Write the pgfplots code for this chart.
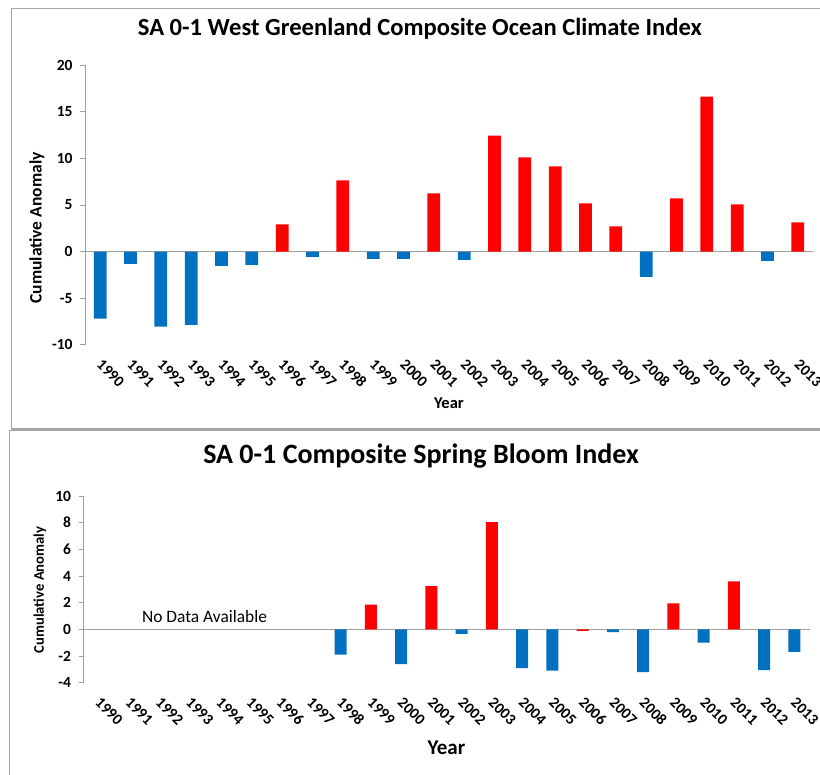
\documentclass[border=0pt]{standalone}
\usepackage{fontspec}
\setmainfont{Carlito}
\usepackage{pgfplots}
\pgfplotsset{compat=1.18}
\definecolor{xblue}{HTML}{0070C0}
\definecolor{xred}{HTML}{FF0000}
\definecolor{framegray}{HTML}{A6A6A6}
\definecolor{axgray}{HTML}{A0A0A0}
\pgfplotsset{
  mystyle/.style={
    scale only axis,
    xmin=-0.5, xmax=23.5,
    xtick={0,...,23},
    xticklabels={1990,1991,1992,1993,1994,1995,1996,1997,1998,1999,2000,2001,2002,2003,2004,2005,2006,2007,2008,2009,2010,2011,2012,2013},
    axis lines*=left,
    x axis line style={draw=none},
    y axis line style={axgray, line width=0.9pt},
    xtick style={draw=none},
    ytick style={axgray, line width=0.9pt},
    tick align=outside,
    major tick length=5pt,
    ybar, bar shift=0pt,
    /pgf/number format/assume math mode=true,
    ticklabel style={font=\fontsize{15.5}{18}\selectfont\bfseries},
    xticklabel style={rotate=-45, anchor=north west, inner sep=1pt, xshift=7pt, yshift=-2.8pt},
    yticklabel style={xshift=-4pt},
    extra y ticks={0}, extra y tick labels={},
    extra y tick style={grid=major, major grid style={axgray, line width=1.1pt}},
    clip=false,
  }
}
\begin{document}
\begin{tikzpicture}
\useasboundingbox (0,0) rectangle (820pt,-775pt);
\clip (0,0) rectangle (820pt,-775pt);
\draw[framegray, line width=1.3pt] (11.5pt,-8.7pt) rectangle (840pt,-429pt);
\draw[framegray, line width=1.3pt] (9.5pt,-430.5pt) rectangle (840pt,-800pt);
\begin{axis}[mystyle,
  at={(85pt,-344.7pt)}, anchor=south west,
  width=728pt, height=279.4pt,
  ymin=-10, ymax=20, ytick={-10,-5,...,20},
  bar width=12.7pt,
  title={SA 0-1 West Greenland Composite Ocean Climate Index},
  title style={at={(axis description cs:0.46,1.108)}, anchor=center, font=\fontsize{24.6}{29}\selectfont\bfseries},
  xlabel={Year},
  xlabel style={at={(axis description cs:0.5,-0.209)}, anchor=center, font=\fontsize{16.5}{19}\selectfont\bfseries},
  ylabel={Cumulative Anomaly},
  ylabel style={at={(axis description cs:-0.066,0.418)}, anchor=center, font=\fontsize{17.5}{20}\selectfont\bfseries},
]
\addplot[fill=xred, draw=none] coordinates {(6,2.93) (8,7.64) (11,6.25) (13,12.46) (14,10.11) (15,9.14) (16,5.18) (17,2.71) (19,5.71) (20,16.64) (21,5.07) (23,3.14)};
\addplot[fill=xblue, draw=none] coordinates {(0,-7.21) (1,-1.32) (2,-8.07) (3,-7.86) (4,-1.54) (5,-1.43) (7,-0.57) (9,-0.79) (10,-0.79) (12,-0.89) (18,-2.71) (22,-1.0)};
\end{axis}
\begin{axis}[mystyle,
  at={(83.5pt,-682.7pt)}, anchor=south west,
  width=726pt, height=186.7pt,
  ymin=-4, ymax=10, ytick={-4,-2,...,10},
  bar width=12pt,
  title={SA 0-1 Composite Spring Bloom Index},
  title style={at={(axis description cs:0.465,1.182)}, anchor=center, font=\fontsize{28}{33}\selectfont\bfseries},
  xlabel={Year},
  xlabel style={at={(axis description cs:0.5,-0.35)}, anchor=center, font=\fontsize{21}{25}\selectfont\bfseries},
  ylabel={Cumulative Anomaly},
  ylabel style={at={(axis description cs:-0.06,0.497)}, anchor=center, font=\fontsize{14.7}{17}\selectfont\bfseries},
]
\addplot[fill=xred, draw=none] coordinates {(9,1.85) (11,3.25) (13,8.05) (16,-0.12) (19,1.95) (21,3.6)};
\addplot[fill=xblue, draw=none] coordinates {(8,-1.9) (10,-2.6) (12,-0.33) (14,-2.9) (15,-3.1) (17,-0.2) (18,-3.2) (20,-1.0) (22,-3.05) (23,-1.68)};
\node[font=\fontsize{17.4}{20}\selectfont] at (axis cs:3.5,0.95) {No Data Available};
\end{axis}
\end{tikzpicture}
\end{document}
